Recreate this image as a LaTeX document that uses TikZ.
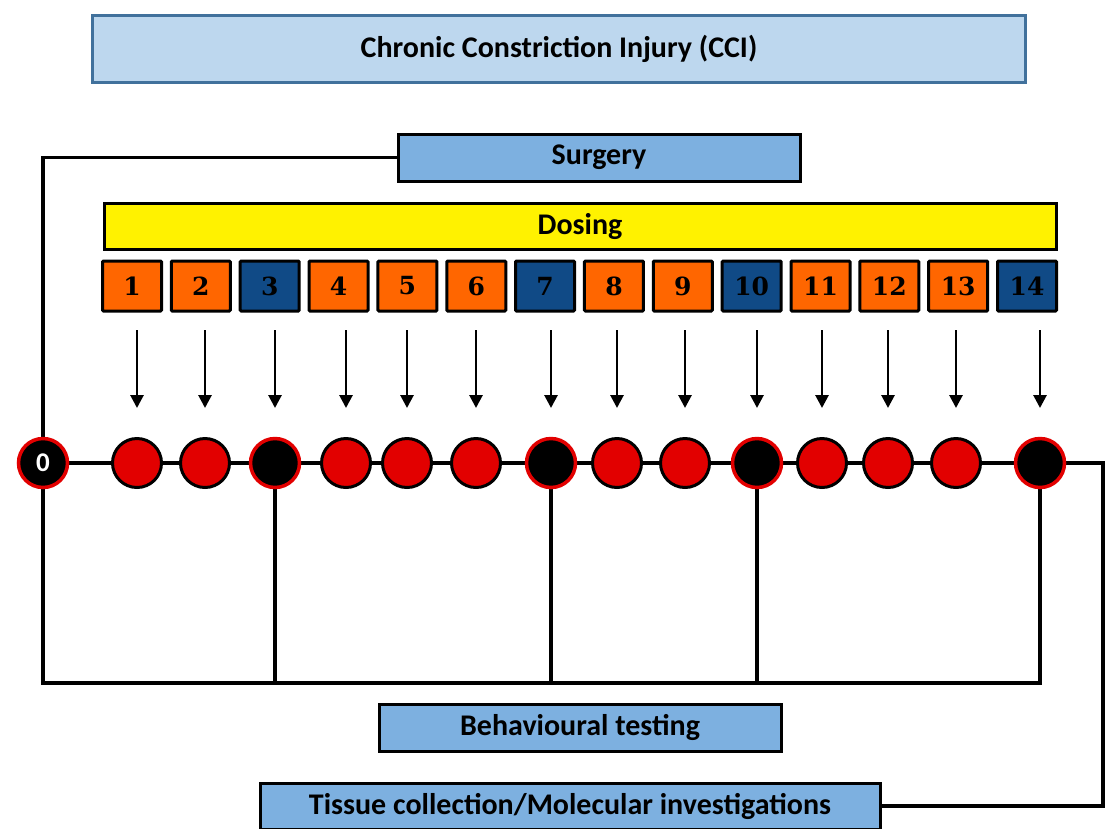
\documentclass[tikz,border=0pt]{standalone}
\usepackage{fontspec}
\setmainfont{Carlito}
\newfontfamily\numfont{DejaVu Serif}
\usetikzlibrary{calc,arrows.meta,backgrounds}
\definecolor{titlefill}{RGB}{189,215,238}
\definecolor{titleborder}{RGB}{65,113,156}
\definecolor{bluefill}{RGB}{125,176,224}
\definecolor{orangefill}{RGB}{255,102,0}
\definecolor{navyfill}{RGB}{16,74,134}
\definecolor{dotred}{RGB}{226,0,0}
\begin{document}
\begin{tikzpicture}[x=1pt,y=-1pt,
 lbl/.style={font=\fontsize{30}{33}\selectfont\bfseries},
 bluebox/.style={draw=black,line width=3pt,fill=bluefill,lbl,inner sep=0pt},
 daybox/.style={draw=black,line width=3pt,minimum width=59pt,minimum height=50pt,inner sep=0pt,font=\numfont\fontsize{25}{27}\selectfont\bfseries,rounded corners=1pt},
 reddot/.style={circle,draw=black,fill=dotred,line width=3pt,minimum size=49pt,inner sep=0pt},
 blackdot/.style={circle,draw=dotred,fill=black,line width=3.5pt,minimum size=49pt,inner sep=0pt},
 conn/.style={line width=3.5pt},
 arr/.style={line width=2.8pt,-{Triangle[length=13pt,width=13pt]}}]

\useasboundingbox (0,0) rectangle (1105,828);

\node[draw=titleborder,fill=titlefill,line width=3pt,minimum width=933pt,minimum height=67pt,lbl] (title) at (559,48.5) {Chronic Constriction Injury (CCI)};

\node[bluebox,minimum width=402pt,minimum height=47pt] (surg) at (599,157.5) {Surgery};
\node[draw=black,line width=3pt,fill=yellow,lbl,inner sep=0pt,minimum width=952pt,minimum height=46pt] (dose) at (580,226.5) {Dosing};

\foreach \i in {1,...,14}{
  \pgfmathsetmacro{\bx}{132+68.85*(\i-1)}
  \ifnum\i=3 \def\bc{navyfill}\else\ifnum\i=7 \def\bc{navyfill}\else\ifnum\i=10 \def\bc{navyfill}\else\ifnum\i=14 \def\bc{navyfill}\else\def\bc{orangefill}\fi\fi\fi\fi
  \node[daybox,fill=\bc] (b\i) at (\bx,286) {\i};
}

\node[blackdot,text=white,font=\fontsize{27}{27}\selectfont\bfseries] (c0) at (43,463) {0};
\foreach \i/\cx in {1/137,2/205,4/346,5/407,6/476,8/617,9/685,11/822,12/888,13/956}
  \node[reddot] (c\i) at (\cx,463) {};
\foreach \i/\cx in {3/275,7/551,10/757,14/1040}
  \node[blackdot] (c\i) at (\cx,463) {};

\node[bluebox,minimum width=402pt,minimum height=47pt] (beh) at (580,727.5) {Behavioural testing};
\node[bluebox,minimum width=620pt,minimum height=46pt] (tiss) at (570,806) {Tissue collection/Molecular investigations};

\coordinate (bot) at (0,683);
\coordinate (redge) at (1103,463);

\begin{pgfonlayer}{background}
  \fill[white] (0,0) rectangle (1105,828);
  \draw[conn] (surg.west) -| (c0.center) -- (c0 |- bot) -- (c14 |- bot) -- (c14.center);
  \foreach \i in {3,7,10} \draw[conn] (c\i.center) -- (c\i |- bot);
  \draw[conn] (c0.center) -- (c14.center) -- (redge) |- (tiss.east);
\end{pgfonlayer}

\foreach \i in {1,...,14}
  \draw[arr] ($(c\i.center)+(0,-133)$) -- ($(c\i.center)+(0,-55)$);

\end{tikzpicture}
\end{document}
